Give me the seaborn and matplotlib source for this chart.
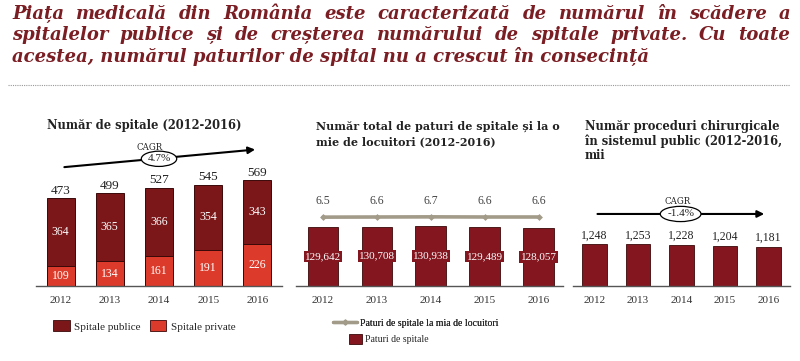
import numpy as np
import pandas as pd
import seaborn as sns
import matplotlib.pyplot as plt
from matplotlib.patches import Patch
from matplotlib.lines import Line2D

years = ["2012", "2013", "2014", "2015", "2016"]
spitale_publice = [364, 365, 366, 354, 343]
spitale_private = [109, 134, 161, 191, 226]
spitale_total = [473, 499, 527, 545, 569]
paturi = [129642, 130708, 130938, 129489, 128057]
paturi_la_mie = [6.5, 6.6, 6.7, 6.6, 6.6]
proceduri = [1248, 1253, 1228, 1204, 1181]
cagr_spitale = "4.7%"
cagr_proceduri = "-1.4%"

title_lines = [
    "Piața medicală din România este caracterizată de numărul în scădere a",
    "spitalelor publice și de creșterea numărului de spitale private. Cu toate",
    "acestea, numărul paturilor de spital nu a crescut în consecință",
]

sns.set_style("white")
plt.rcParams['font.family'] = ['DejaVu Serif']

MAROON = "#7b1619"
MAROON2 = "#83161f"
RED = "#dc3a2a"
EDGE = "#3a0808"
TITLE = "#7a1e24"
GREY_LINE = "#a39b89"
TXT = "#222222"
NUM = ['Liberation Serif', 'DejaVu Serif']

fig = plt.figure(figsize=(8, 3.61), dpi=100)
W, H = 800, 361
renderer = fig.canvas.get_renderer()

# main title, first two lines justified like in the source
title_kw = dict(fontsize=13, fontweight="bold", fontstyle="italic", color=TITLE,
                ha="left", va="center")
for i, line in enumerate(title_lines):
    y = 1 - (14 + i * 21) / H
    if i == len(title_lines) - 1:
        fig.text(12 / W, y, line, **title_kw)
        continue
    words = line.split()
    texts = [fig.text(0, y, w, **title_kw) for w in words]
    widths = [t.get_window_extent(renderer).width for t in texts]
    gap = (790 - 12 - sum(widths)) / (len(words) - 1)
    x = 12
    for t, w in zip(texts, widths):
        t.set_x(x / W)
        x += w + gap
fig.add_artist(Line2D([8 / W, 790 / W], [1 - 85 / H] * 2, color="#999999",
                      lw=0.8, linestyle=(0, (1, 1))))

bottom = 1 - 286 / H
height = 146 / H
ax1 = fig.add_axes([36 / W, bottom, 246 / W, height])
ax2 = fig.add_axes([296 / W, bottom, 267 / W, height])
ax3 = fig.add_axes([573 / W, bottom, 217 / W, height])

df1 = pd.DataFrame({"an": years, "total": spitale_total, "privat": spitale_private,
                    "public": spitale_publice})
df2 = pd.DataFrame({"an": years, "paturi": paturi, "mie": paturi_la_mie})
df3 = pd.DataFrame({"an": years, "proc": proceduri})

head_kw = dict(fontweight="bold", color=TXT, ha="left", va="center")

# panel 1 - stacked bars
sns.barplot(data=df1, x="an", y="total", color=MAROON, width=0.57, ax=ax1,
            edgecolor=EDGE, linewidth=0.7, saturation=1)
sns.barplot(data=df1, x="an", y="privat", color=RED, width=0.57, ax=ax1,
            edgecolor=EDGE, linewidth=0.7, saturation=1)
ax1.bar_label(ax1.containers[0], labels=[str(v) for v in spitale_total], padding=1,
              fontsize=9.5, color=TXT, family=NUM)
for i in range(len(years)):
    ax1.text(i, spitale_private[i] + spitale_publice[i] / 2, str(spitale_publice[i]),
             ha="center", va="center", color="white", fontsize=8.5, family=NUM)
    ax1.text(i, spitale_private[i] / 2, str(spitale_private[i]),
             ha="center", va="center", color="white", fontsize=8.5, family=NUM)
ax1.set_ylim(0, 784)
ax1.set_xlim(-0.5, 4.5)
ax1.annotate("", xy=(4.01, 734), xytext=(0.02, 637),
             arrowprops=dict(arrowstyle="-|>", color="black", lw=1.5, mutation_scale=10))
ax1.text(1.81, 745, "CAGR", ha="center", va="center", fontsize=6.2, color=TXT)
ax1.text(2.0, 683, cagr_spitale, ha="center", va="center", fontsize=8, color=TXT,
         family=NUM,
         bbox=dict(boxstyle="ellipse,pad=0.08", fc="white", ec="black", lw=0.9))
fig.text(47 / W, 1 - 126 / H, "Număr de spitale (2012-2016)", fontsize=8.3, **head_kw)
ax1.legend(handles=[Patch(fc=MAROON, ec=EDGE, lw=0.6, label="Spitale publice"),
                    Patch(fc=RED, ec=EDGE, lw=0.6, label="Spitale private")],
           ncol=2, frameon=False, prop=dict(family=NUM, size=8), loc="center left",
           bbox_to_anchor=(53 / W, 1 - 326 / H), bbox_transform=fig.transFigure,
           handlelength=1.5, handleheight=1.1, handletextpad=0.4, columnspacing=0.8,
           borderaxespad=0, borderpad=0)

# panel 2 - beds
sns.barplot(data=df2, x="an", y="paturi", color=MAROON2, width=0.57, ax=ax2,
            edgecolor=EDGE, linewidth=0.6, saturation=1)
lbls = ax2.bar_label(ax2.containers[0], labels=[f"{v:,}" for v in paturi],
                     label_type="center", fontsize=8, color="white", family=NUM)
for t in lbls:
    t.set_bbox(dict(boxstyle="square,pad=0.12", fc=MAROON2, ec="none"))
ax2.set_ylim(0, 321000)
ax2.set_xlim(-0.5, 4.45)
tw = ax2.twinx()
sns.lineplot(x=np.arange(len(years)), y=paturi_la_mie, ax=tw, color=GREY_LINE, lw=2.6,
             marker="D", markersize=3.5, markeredgewidth=0)
tw.set_ylim(6.6 - 0.4726 * 100, 6.6 + 0.5274 * 100)
tw.set_yticks([])
tw.set_ylabel("")
for i, v in enumerate(paturi_la_mie):
    tw.annotate(f"{v}", (i, v), xytext=(0, 7), textcoords="offset points",
                ha="center", va="bottom", fontsize=8.5, color="#444444", family=NUM)
for s in tw.spines.values():
    s.set_visible(False)
fig.text(316 / W, 1 - 126 / H, "Număr total de paturi de spitale și la o",
         fontsize=8, **head_kw)
fig.text(316 / W, 1 - 141.7 / H, "mie de locuitori (2012-2016)",
         fontsize=8, **head_kw)
leg_line = ax2.legend(handles=[Line2D([], [], color=GREY_LINE, lw=2.4, marker="D",
                                      markersize=2.5,
                                      label="Paturi de spitale la mia de locuitori")],
                      frameon=False, prop=dict(family=NUM, size=7), loc="center left",
                      bbox_to_anchor=(333 / W, 1 - 323 / H),
                      bbox_transform=fig.transFigure, handlelength=2.5,
                      handletextpad=0.3, borderaxespad=0, borderpad=0)
ax2.add_artist(leg_line)
tw.legend(handles=[Patch(fc=MAROON2, ec=EDGE, lw=0.6, label="Paturi de spitale")],
          frameon=False, prop=dict(family=NUM, size=7), loc="center left",
          bbox_to_anchor=(349 / W, 1 - 339 / H), bbox_transform=fig.transFigure,
          handlelength=1.3, handleheight=1.3, handletextpad=0.35, borderaxespad=0,
          borderpad=0)

# panel 3 - surgeries
sns.barplot(data=df3, x="an", y="proc", color=MAROON2, width=0.57, ax=ax3,
            edgecolor=EDGE, linewidth=0.6, saturation=1)
ax3.bar_label(ax3.containers[0], labels=[f"{v:,}" for v in proceduri], padding=2,
              fontsize=8.5, color=TXT, family=NUM)
ax3.set_ylim(0, 4370)
ax3.set_xlim(-0.5, 4.5)
ax3.annotate("", xy=(3.97, 2156), xytext=(0.0, 2156),
             arrowprops=dict(arrowstyle="-|>", color="black", lw=1.5, mutation_scale=10))
ax3.text(1.92, 2524, "CAGR", ha="center", va="center", fontsize=6.2, color=TXT)
ax3.text(1.98, 2156, cagr_proceduri, ha="center", va="center", fontsize=8, color=TXT,
         family=NUM,
         bbox=dict(boxstyle="ellipse,pad=0.08", fc="white", ec="black", lw=0.9))
for i, line in enumerate(["Număr proceduri chirurgicale", "în sistemul public (2012-2016,", "mii"]):
    fig.text(585 / W, 1 - (126.7 + i * 14.5) / H, line, fontsize=8.3, **head_kw)

for ax in (ax1, ax2, ax3):
    sns.despine(ax=ax, left=True)
    ax.spines["bottom"].set_color("#555555")
    ax.spines["bottom"].set_linewidth(1)
    ax.set_yticks([])
    ax.set_xlabel("")
    ax.set_ylabel("")
    ax.tick_params(axis="x", length=0, labelsize=8, labelcolor="#333333", pad=7)
    for lab in ax.get_xticklabels():
        lab.set_family(NUM)

fig.savefig("out.png", dpi=100)
